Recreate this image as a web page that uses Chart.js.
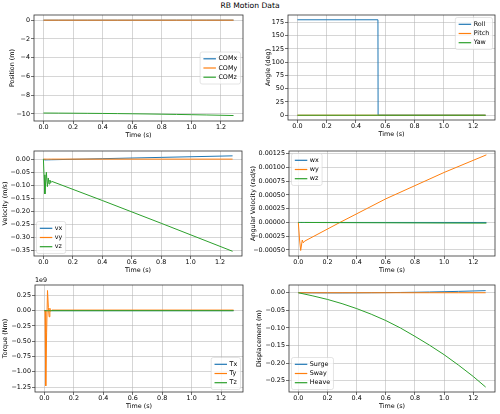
<!DOCTYPE html>
<html>
<head>
<meta charset="utf-8">
<script src="https://cdn.jsdelivr.net/npm/chart.js@4.4.0/dist/chart.umd.min.js"></script>
<style>
  html, body { margin: 0; padding: 0; background: #fff; }
  body { width: 500px; height: 414px; position: relative; overflow: hidden; font-family: "DejaVu Sans", sans-serif; }
  #title { position: absolute; left: 0; top: 1px; width: 500px; text-align: center; font-size: 7.6px; color: #000; }
  canvas { position: absolute; }
</style>
</head>
<body>
<div id="title">RB Motion Data</div>
<canvas id="pos"></canvas>
<canvas id="ang"></canvas>
<canvas id="vel"></canvas>
<canvas id="angvel"></canvas>
<canvas id="torque"></canvas>
<canvas id="disp"></canvas>
<script>
// ---- data ----
const timeTicks = [0, 0.2, 0.4, 0.6, 0.8, 1.0, 1.2];

// position / displacement (smooth signals)
const tSlow = [0, 0.1, 0.2, 0.3, 0.4, 0.5, 0.6, 0.7, 0.8, 0.9, 1.0, 1.1, 1.2, 1.285];
const comX = [0, -0.0003, -0.0005, -0.0005, -0.0003, 0, 0.0003, 0.0008, 0.0014, 0.0021, 0.003, 0.0039, 0.005, 0.006];
const comY = [0, 0, 0, 0, 0, 0, 0, 0, 0, 0, 0, 0, 0, 0];
const comZ = [-9.9, -9.909, -9.919, -9.931, -9.945, -9.961, -9.979, -10.0, -10.024, -10.049, -10.076, -10.106, -10.138, -10.168];
const surge = [0, -0.0003, -0.0005, -0.0005, -0.0003, 0, 0.0003, 0.0008, 0.0014, 0.0021, 0.003, 0.0039, 0.005, 0.006];
const sway = [0, 0, 0, 0, 0, 0, 0, 0, 0, 0, 0, 0, 0, 0];
const heave = [0, -0.009, -0.019, -0.031, -0.045, -0.061, -0.079, -0.1, -0.124, -0.149, -0.176, -0.206, -0.238, -0.268];
const posTicks = [0, -2, -4, -6, -8, -10];
const dispTicks = [0, -0.05, -0.1, -0.15, -0.2, -0.25];

// euler angles
const tAng = [0, 0.55, 0.551, 1.285];
const roll = [180, 180, 0, 0];
const pitch = [0, 0, 0, 0];
const yaw = [0, 0, 0, 0];
const angTicks = [0, 25, 50, 75, 100, 125, 150, 175];

// linear velocity
const tVel = [0, 0.004, 0.01, 0.02, 0.027, 0.033, 0.038, 0.044, 0.05, 0.057, 0.4, 0.8, 1.285];
const vx = [0, -0.002, -0.003, -0.003, -0.003, -0.0028, -0.0027, -0.0026, -0.0025, -0.0024, 0.0017, 0.0066, 0.0125];
const vy = [0, 0, 0, 0, 0, 0, 0, 0, 0, 0, 0, 0, 0];
const vz = [0, -0.06, -0.133, -0.05, -0.105, -0.072, -0.095, -0.08, -0.09, -0.085, -0.158, -0.245, -0.352];
const velTicks = [0, -0.05, -0.1, -0.15, -0.2, -0.25, -0.3, -0.35];

// angular velocity
const tAngVel = [0, 0.008, 0.016, 0.027, 0.034, 0.043, 0.285, 0.6, 1.0, 1.29];
const wx = [0, 0, 0, 0, 0, 0, 0, 0, 0, 0];
const wy = [0, -0.0003, -0.00051, -0.00032, -0.00037, -0.00034, 0, 0.00043, 0.00091, 0.00123];
const wz = [0, 0, 0, 0, 0, 0, -0.000003, -0.000006, -0.00001, -0.000012];
const angVelTicks = [-0.0005, -0.00025, 0, 0.00025, 0.0005, 0.00075, 0.001, 0.00125];

// torque
const tTorque = [0, 0.004, 0.009, 0.015, 0.021, 0.027, 0.032, 0.037, 0.042, 0.05, 1.285];
const torqueX = [0, 0, 0, 0, 0, 0, 0, 0, 0, 0, 0];
const torqueY = [0, 0, -1.23e9, -0.35e9, 0.33e9, 0.05e9, -0.1e9, 0.04e9, -0.01e9, 0.01e9, 0.01e9];
const torqueZ = [0, 0, 0, 0, 0, 0, 0, 0, 0, 0, 0];
const torqueTicks = [0.25e9, 0, -0.25e9, -0.5e9, -0.75e9, -1e9, -1.25e9];

// ---- styling ----
const COLORS = ["#1f77b4", "#ff7f0e", "#2ca02c"];
const FONT = { family: "DejaVu Sans", size: 6.4 };
const GRID = "rgba(176,176,176,0.75)";
const PAD_TOP = 10, PAD_RIGHT = 4, X_AXIS_H = 22;

function fmt(v, decimals) {
  return v.toFixed(decimals).replace("-", "\u2212");
}

function toPoints(xs, ys) {
  return ys.map((y, i) => ({ x: xs[i], y: y }));
}

// matplotlib-like legend drawn inside the axes
const mplLegend = {
  id: "mplLegend",
  afterDraw(chart, args, opts) {
    if (!opts.loc) return;
    const { ctx, chartArea: a } = chart;
    const items = chart.data.datasets;
    const pad = 3.3, handle = 12.5, gap = 2.5, row = 9.2, vpad = 2.2, inset = 2.5;
    ctx.save();
    ctx.font = FONT.size + 'px "DejaVu Sans"';
    const tw = Math.max(...items.map(d => ctx.measureText(d.label).width));
    const w = pad + handle + gap + tw + pad;
    const h = row * items.length + 2 * vpad;
    let x, y;
    if (opts.loc.includes("right")) x = a.right - inset - w;
    else x = a.left + inset;
    if (opts.loc.includes("upper")) y = a.top + inset;
    else if (opts.loc.includes("lower")) y = a.bottom - inset - h;
    else y = (a.top + a.bottom) / 2 - h / 2;

    ctx.beginPath();
    ctx.roundRect(x, y, w, h, 2);
    ctx.fillStyle = "rgba(255,255,255,0.8)";
    ctx.fill();
    ctx.strokeStyle = "rgba(204,204,204,0.9)";
    ctx.lineWidth = 0.6;
    ctx.stroke();

    items.forEach((d, i) => {
      const cy = y + vpad + row * (i + 0.5);
      ctx.beginPath();
      ctx.moveTo(x + pad, cy);
      ctx.lineTo(x + pad + handle, cy);
      ctx.strokeStyle = d.borderColor;
      ctx.lineWidth = 1.2;
      ctx.stroke();
      ctx.fillStyle = "#000";
      ctx.textBaseline = "middle";
      ctx.textAlign = "left";
      ctx.fillText(d.label, x + pad + handle + gap, cy);
    });
    ctx.restore();
  }
};

// full box frame + optional offset text ("1e9")
const mplFrame = {
  id: "mplFrame",
  afterDatasetsDraw(chart, args, opts) {
    const { ctx, chartArea: a } = chart;
    ctx.save();
    ctx.strokeStyle = "#333";
    ctx.lineWidth = 0.8;
    ctx.strokeRect(a.left, a.top, a.right - a.left, a.bottom - a.top);
    if (opts.offsetText) {
      ctx.fillStyle = "#000";
      ctx.font = FONT.size + 'px "DejaVu Sans"';
      ctx.textAlign = "left";
      ctx.textBaseline = "bottom";
      ctx.fillText(opts.offsetText, a.left, a.top - 1.5);
    }
    ctx.restore();
  }
};

// ---- panels ----
const panels = [
  {
    id: "pos", col: 0, box: [34, 15, 243, 121], yLabel: "Position (m)", yTitlePad: 8.2,
    yMin: -10.75, yMax: 0.55, yTicks: posTicks, yDec: 0, legend: "center right",
    t: tSlow, series: [["COMx", comX], ["COMy", comY], ["COMz", comZ]]
  },
  {
    id: "ang", col: 1, box: [288, 15, 495, 120], yLabel: "Angle (deg)", yTitlePad: 14.2,
    yMin: -9, yMax: 189, yTicks: angTicks, yDec: 0, legend: "upper right",
    t: tAng, series: [["Roll", roll], ["Pitch", pitch], ["Yaw", yaw]]
  },
  {
    id: "vel", col: 0, box: [34, 151, 242, 256], yLabel: "Velocity (m/s)", yTitlePad: 1.5,
    yMin: -0.37, yMax: 0.031, yTicks: velTicks, yDec: 2, legend: "lower left",
    t: tVel, series: [["vx", vx], ["vy", vy], ["vz", vz]]
  },
  {
    id: "angvel", col: 1, box: [289, 151, 495, 256], yLabel: "Angular Velocity (rad/s)", yTitlePad: 0,
    yMin: -0.00061, yMax: 0.0013, yTicks: angVelTicks, yDec: 5, legend: "upper left",
    t: tAngVel, series: [["wx", wx], ["wy", wy], ["wz", wz]]
  },
  {
    id: "torque", col: 0, box: [35, 285, 243, 392], yLabel: "Torque (Nm)", yTitlePad: 1.2,
    yMin: -1.33e9, yMax: 0.42e9, yTicks: torqueTicks, yDec: 2, yScale: 1e9, offsetText: "1e9",
    legend: "lower right",
    t: tTorque, series: [["Tx", torqueX], ["Ty", torqueY], ["Tz", torqueZ]]
  },
  {
    id: "disp", col: 1, box: [289, 285, 495, 392], yLabel: "Displacement (m)", yTitlePad: 5.2,
    yMin: -0.282, yMax: 0.022, yTicks: dispTicks, yDec: 2, legend: "lower left",
    t: tSlow, series: [["Surge", surge], ["Sway", sway], ["Heave", heave]]
  }
];

panels.forEach(p => {
  const [bl, bt, br, bb] = p.box;
  const left = p.col === 0 ? 0 : 250;
  const top = bt - PAD_TOP;
  const width = br + PAD_RIGHT - left;
  const height = bb + X_AXIS_H - top;
  const yAxisW = bl - left;

  const canvas = document.getElementById(p.id);
  canvas.width = width;
  canvas.height = height;
  canvas.style.left = left + "px";
  canvas.style.top = top + "px";
  canvas.style.width = width + "px";
  canvas.style.height = height + "px";

  const scaleDiv = p.yScale || 1;

  new Chart(canvas, {
    type: "line",
    data: {
      datasets: p.series.map(([label, values], i) => ({
        label: label,
        data: toPoints(p.t, values),
        borderColor: COLORS[i],
        backgroundColor: COLORS[i],
        borderWidth: 1,
        pointRadius: 0,
        tension: 0,
        fill: false,
        order: p.series.length - i
      }))
    },
    options: {
      responsive: false,
      animation: false,
      events: [],
      layout: { padding: { top: PAD_TOP, right: PAD_RIGHT, left: 0, bottom: 0 } },
      plugins: {
        legend: { display: false },
        tooltip: { enabled: false },
        mplLegend: { loc: p.legend },
        mplFrame: { offsetText: p.offsetText || "" }
      },
      scales: {
        x: {
          type: "linear",
          min: -0.064,
          max: 1.349,
          afterBuildTicks: s => { s.ticks = timeTicks.map(v => ({ value: v })); },
          afterFit: s => { s.height = X_AXIS_H; },
          ticks: {
            font: FONT, color: "#000", padding: 0, autoSkip: false, maxRotation: 0,
            callback: v => fmt(v, 1)
          },
          grid: { color: GRID, lineWidth: 0.7, tickColor: "#333", tickLength: 3 },
          border: { display: false },
          title: { display: true, text: "Time (s)", font: FONT, color: "#000", padding: { top: 0, bottom: 3.6 } }
        },
        y: {
          type: "linear",
          min: p.yMin,
          max: p.yMax,
          afterBuildTicks: s => { s.ticks = p.yTicks.map(v => ({ value: v })); },
          afterFit: s => { s.width = yAxisW; },
          ticks: {
            font: FONT, color: "#000", padding: 1, autoSkip: false,
            callback: v => fmt(v / scaleDiv, p.yDec)
          },
          grid: { color: GRID, lineWidth: 0.7, tickColor: "#333", tickLength: 3 },
          border: { display: false },
          title: { display: true, text: p.yLabel, font: FONT, color: "#000", padding: { top: p.yTitlePad, bottom: 0 } }
        }
      }
    },
    plugins: [mplLegend, mplFrame]
  });
});
</script>
</body>
</html>
